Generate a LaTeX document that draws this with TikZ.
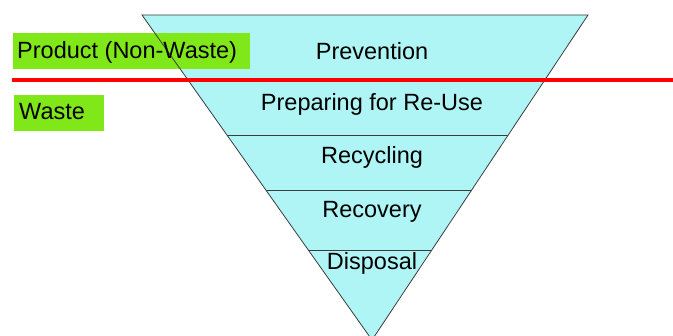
\documentclass[tikz,border=0pt]{standalone}
\usepackage{fontspec}
\setmainfont{Liberation Sans}
\definecolor{layercyan}{RGB}{175,245,245}
\definecolor{labelgreen}{RGB}{128,232,24}
\definecolor{edgegray}{RGB}{60,60,60}
\begin{document}
\begin{tikzpicture}[x=1pt,y=-1pt,
  lbl/.style={font=\fontsize{23.5}{27}\selectfont, inner sep=0pt, text=black, anchor=base},
  gbox/.style={fill=labelgreen, draw=none, inner sep=0pt, anchor=north west},
  edge/.style={draw=edgegray, line width=0.8pt}]
\useasboundingbox (0,0) rectangle (673,336);
% triangle corners
\coordinate (tl) at (142,15);
\coordinate (tr) at (588,15);
\coordinate (ap) at (372,340);
% fill
\fill[layercyan] (tl) -- (tr) -- (ap) -- cycle;
% green label boxes
\node[gbox, minimum width=237pt, minimum height=36pt] (pbox) at (13,33) {};
\node[gbox, minimum width=90pt, minimum height=36pt] (wbox) at (14,95) {};
% outline
\begin{scope}
\clip (tl) -- (tr) -- (ap) -- cycle;
\draw[edge] (0,80) -- (673,80);
\draw[edge] (0,135) -- (673,135);
\draw[edge] (0,190) -- (673,190);
\draw[edge] (0,250) -- (673,250);
\end{scope}
\draw[edge, line join=miter] (tl) -- (tr) -- (ap) -- cycle;
% red divider
\coordinate (rl) at (12,80);
\coordinate (rr) at (673,80);
\draw[red, line width=4.5pt] (rl) -- (rr);
% labels
\node[lbl, anchor=base west] (ptext) at (17,58.5) {Product (Non-Waste)};
\node[lbl, anchor=base west] (wtext) at (19,120) {Waste};
\node[lbl] (prev) at (372,59.5) {Prevention};
\node[lbl] (prep) at (372,111) {Preparing for Re-Use};
\node[lbl] (recy) at (372,164) {Recycling};
\node[lbl] (reco) at (372,218) {Recovery};
\node[lbl] (disp) at (372,270) {Disposal};
\end{tikzpicture}
\end{document}
